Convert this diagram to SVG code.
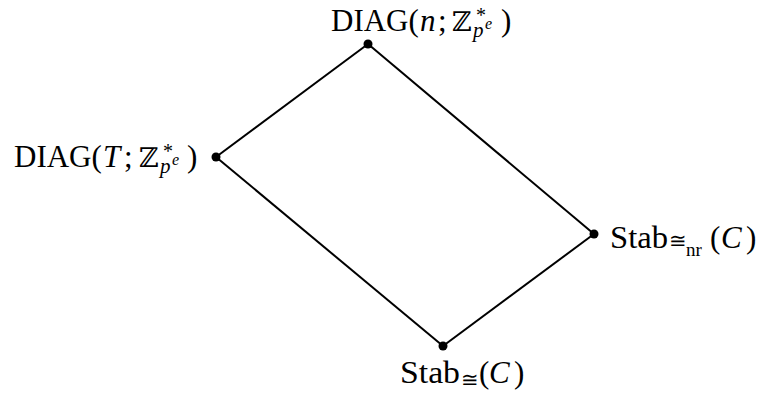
<svg xmlns="http://www.w3.org/2000/svg" width="759" height="397" viewBox="0 0 759 397">
<style>
.lbl{font-family:"Liberation Serif","DejaVu Serif",serif;font-size:31px;fill:#000}
.it{font-style:italic}
.bb{font-size:27px}
.sup{font-size:20px}
.sub{font-size:21px}
.ss{font-size:16px}
.rel{font-size:21px}
.nr{font-size:19px}
.edge{stroke:#000;stroke-width:2;fill:none}
</style>
<rect width="759" height="397" fill="#fff"/>
<g id="connectors">
<line class="edge" x1="368" y1="44" x2="216" y2="157"/>
<line class="edge" x1="368" y1="44" x2="594" y2="234"/>
<line class="edge" x1="216" y1="157" x2="443" y2="346"/>
<line class="edge" x1="443" y1="346" x2="594" y2="234"/>
</g>
<g id="node-top">
<circle cx="368" cy="44" r="4.5"/>
<text class="lbl" x="331" y="31">DIAG(<tspan class="it" x="420">n</tspan><tspan x="438">;</tspan><tspan class="bb" x="452">ℤ</tspan><tspan class="sup" x="476" y="22">*</tspan><tspan class="sub it" x="473" y="37">p</tspan><tspan class="ss it" x="485" y="29">e</tspan><tspan x="501" y="31">)</tspan></text>
</g>
<g id="node-left">
<circle cx="216" cy="157" r="4.5"/>
<text class="lbl" x="14" y="167">DIAG(<tspan class="it" x="103">T</tspan><tspan x="124">;</tspan><tspan class="bb" x="139">ℤ</tspan><tspan class="sup" x="163" y="158">*</tspan><tspan class="sub it" x="160" y="173">p</tspan><tspan class="ss it" x="172" y="165">e</tspan><tspan x="187" y="167">)</tspan></text>
</g>
<g id="node-right">
<circle cx="594" cy="234" r="4.5"/>
<text class="lbl" x="610" y="248" textLength="58" lengthAdjust="spacingAndGlyphs">Stab</text>
<text class="lbl" x="669" y="248"><tspan class="rel">≅</tspan><tspan class="nr" x="686" y="256">nr</tspan><tspan x="710" y="248">(</tspan><tspan class="it" x="721">C</tspan><tspan x="746">)</tspan></text>
</g>
<g id="node-bottom">
<circle cx="443" cy="346" r="4.5"/>
<text class="lbl" x="400" y="383" textLength="60" lengthAdjust="spacingAndGlyphs">Stab</text>
<text class="lbl" x="461" y="387"><tspan class="rel">≅</tspan><tspan x="479" y="383">(</tspan><tspan class="it" x="489">C</tspan><tspan x="514">)</tspan></text>
</g>
</svg>
